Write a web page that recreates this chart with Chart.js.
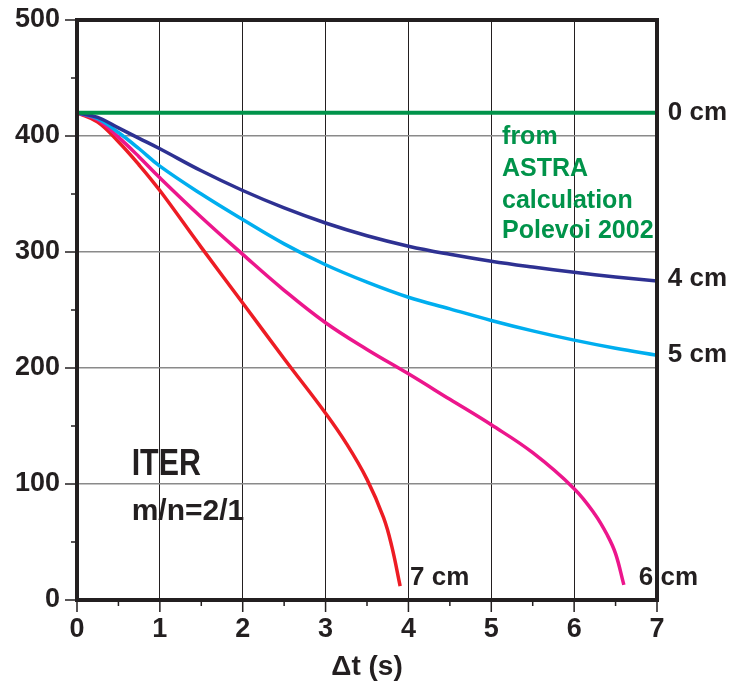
<!DOCTYPE html>
<html>
<head>
<meta charset="utf-8">
<script src="https://cdn.jsdelivr.net/npm/chart.js@4.4.0/dist/chart.umd.min.js"></script>
<style>
html, body { margin: 0; padding: 0; background: #fff; }
#wrap { width: 736px; height: 689px; }
</style>
</head>
<body>
<div id="wrap"><canvas id="chart"></canvas></div>
<script>
// island width (cm) curves
const times = [0, 0.25, 0.5, 0.75, 1, 1.5, 2, 2.5, 3, 3.5, 4, 4.5, 5, 5.5, 6, 6.5, 7];
const w4cm = [420, 416, 407, 398, 389, 370, 353, 338, 325, 314, 305, 298, 292, 287, 282.5, 278.5, 275];
const w5cm = [420, 415, 403, 389, 374, 350, 328, 307, 289, 274, 261, 251, 241, 232, 224, 217, 211];
const times6cm = [0, 0.25, 0.5, 0.75, 1, 1.5, 2, 2.5, 3, 3.5, 4, 4.5, 5, 5.5, 6, 6.25, 6.4, 6.5, 6.6];
const w6cm = [420, 414, 399, 382, 364, 330, 298, 267, 239, 216, 195, 173, 151, 127, 96, 74, 56, 40, 13];
const times7cm = [0, 0.25, 0.5, 0.75, 1, 1.5, 2, 2.5, 3, 3.25, 3.5, 3.7, 3.8, 3.9];
const w7cm = [420, 412, 395, 375, 353, 304, 256, 208, 161, 135, 104, 71, 46, 12];
const timesAstra = [0, 7];
const w0cm = [420, 420];

const xTicks = [0, 1, 2, 3, 4, 5, 6, 7];
const yTicks = [0, 100, 200, 300, 400, 500];

const FONT = "'Liberation Sans', Arial, Helvetica, sans-serif";
const INK = '#231f20';

function pts(xs, ys) {
    return xs.map((x, i) => ({ x: x, y: ys[i] }));
}

function series(data, color, width) {
    return {
        data: data,
        borderColor: color,
        borderWidth: width,
        pointRadius: 0,
        fill: false,
        tension: 0.4
    };
}

// text on the plot, placed in data units
const notes = [
    { text: '0 cm', x: 7.13, y: 420, color: INK, size: 26, base: 'middle' },
    { text: '4 cm', x: 7.13, y: 277, color: INK, size: 26, base: 'middle' },
    { text: '5 cm', x: 7.13, y: 211, color: INK, size: 26, base: 'middle' },
    { text: '7 cm', x: 4.02, y: 19, color: INK, size: 26, base: 'middle' },
    { text: '6 cm', x: 6.78, y: 19, color: INK, size: 26, base: 'middle' },
    { text: 'from', x: 5.13, y: 393, color: '#00934a', size: 25, base: 'alphabetic' },
    { text: 'ASTRA', x: 5.13, y: 365.5, color: '#00934a', size: 25, base: 'alphabetic' },
    { text: 'calculation', x: 5.13, y: 338, color: '#00934a', size: 25, base: 'alphabetic' },
    { text: 'Polevoi 2002', x: 5.13, y: 312, color: '#00934a', size: 25, base: 'alphabetic' },
    { text: 'ITER', x: 0.66, y: 108, color: INK, size: 37, base: 'alphabetic', squeeze: 0.82 },
    { text: 'm/n=2/1', x: 0.66, y: 69, color: INK, size: 30, base: 'alphabetic' }
];

const overlay = {
    id: 'overlay',
    afterDraw(chart) {
        const { ctx, chartArea: a, scales: { x, y } } = chart;
        ctx.save();
        ctx.strokeStyle = INK;
        ctx.lineWidth = 1.5;
        ctx.beginPath();
        for (let v = 0; v <= 500; v += 50) {
            let py = y.getPixelForValue(v);
            let len = v % 100 === 0 ? 12 : 6;
            ctx.moveTo(a.left, py);
            ctx.lineTo(a.left - len, py);
        }
        for (let v = 0; v <= 7; v += 0.5) {
            let px = x.getPixelForValue(v);
            let len = v % 1 === 0 ? 12 : 6;
            ctx.moveTo(px, a.bottom);
            ctx.lineTo(px, a.bottom + len);
        }
        ctx.stroke();

        ctx.lineWidth = 4;
        ctx.strokeRect(a.left, a.top, a.right - a.left, a.bottom - a.top);

        notes.forEach(n => {
            ctx.fillStyle = n.color;
            ctx.font = 'bold ' + n.size + 'px ' + FONT;
            ctx.textAlign = 'left';
            ctx.textBaseline = n.base;
            let px = x.getPixelForValue(n.x);
            let py = y.getPixelForValue(n.y);
            ctx.save();
            ctx.translate(px, py);
            if (n.squeeze) ctx.scale(n.squeeze, 1);
            ctx.fillText(n.text, 0, 0);
            ctx.restore();
        });
        ctx.restore();
    }
};

new Chart(document.getElementById('chart'), {
    type: 'line',
    data: {
        datasets: [
            series(pts(timesAstra, w0cm), '#00934a', 4),
            series(pts(times, w4cm), '#2e3192', 3.5),
            series(pts(times, w5cm), '#00aeef', 3.5),
            series(pts(times6cm, w6cm), '#ec168c', 3.5),
            series(pts(times7cm, w7cm), '#ed1c24', 3.5)
        ]
    },
    options: {
        responsive: true,
        maintainAspectRatio: false,
        animation: false,
        events: [],
        layout: { padding: { top: 20, right: 79, left: 0, bottom: 0 } },
        plugins: { legend: { display: false }, tooltip: { enabled: false } },
        scales: {
            x: {
                type: 'linear',
                min: 0,
                max: 7,
                afterFit: s => { s.height = 89; s.paddingLeft = 0; s.paddingRight = 0; },
                afterBuildTicks: s => { s.ticks = xTicks.map(v => ({ value: v })); },
                border: { display: false },
                grid: {
                    drawTicks: false,
                    lineWidth: 1,
                    color: c => (c.tick && (c.tick.value === 0 || c.tick.value === 7)) ? 'rgba(0,0,0,0)' : INK
                },
                ticks: {
                    padding: 13,
                    color: INK,
                    font: { family: FONT, size: 27, weight: 'bold' }
                },
                title: {
                    display: true,
                    text: 'Δt (s)',
                    color: INK,
                    padding: { top: 0, bottom: 5 },
                    font: { family: FONT, size: 28, weight: 'bold' }
                }
            },
            y: {
                min: 0,
                max: 500,
                afterFit: s => { s.width = 77; s.paddingTop = 0; s.paddingBottom = 0; },
                afterBuildTicks: s => { s.ticks = yTicks.map(v => ({ value: v })); },
                border: { display: false },
                grid: {
                    drawTicks: false,
                    lineWidth: 1.5,
                    color: c => (c.tick && (c.tick.value === 0 || c.tick.value === 500)) ? 'rgba(0,0,0,0)' : '#8a8a8a'
                },
                ticks: {
                    padding: 17,
                    color: INK,
                    font: { family: FONT, size: 27, weight: 'bold' }
                }
            }
        }
    },
    plugins: [overlay]
});
</script>
</body>
</html>
